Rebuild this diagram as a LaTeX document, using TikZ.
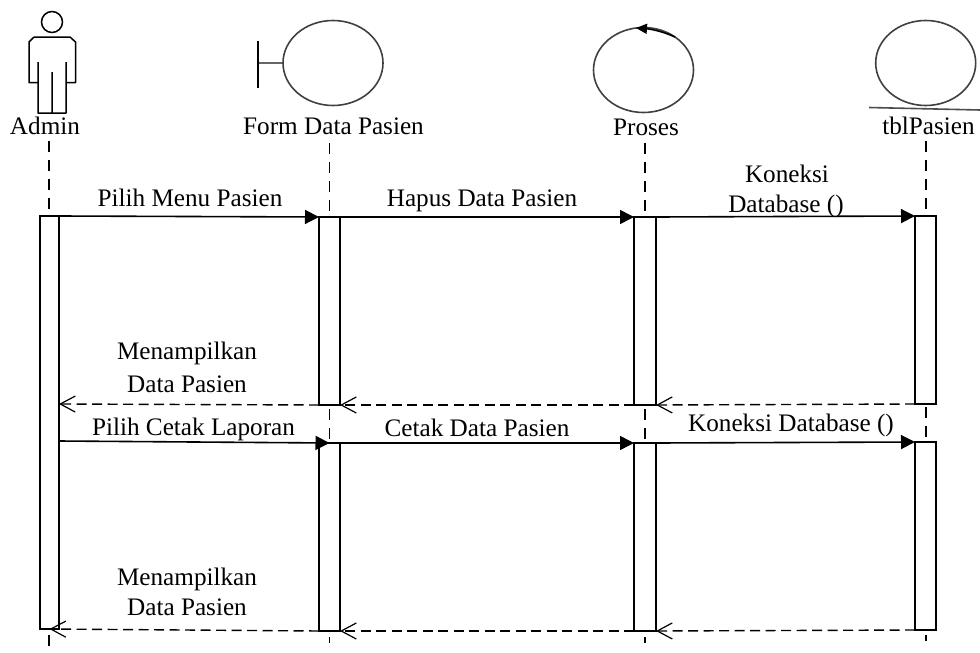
\documentclass[tikz,border=0pt]{standalone}
\usepackage{fontspec}
\setmainfont{Liberation Serif}
\usetikzlibrary{arrows.meta,shapes.geometric}
\tikzset{
  every node/.style={font=\fontsize{25.2}{28}\selectfont,text=black},
  lbl/.style={inner sep=0pt,anchor=base},
  act/.style={draw=black,line width=1.4pt,fill=white,inner sep=0pt,outer sep=0pt,anchor=north west,minimum width=#1},
  life/.style={draw=black,line width=1.4pt,dash pattern=on 11pt off 8pt},
  callarrow/.style={draw=black,line width=1.6pt,-{Triangle[length=14pt,width=14pt]}},
  retarrow/.style={draw=black,line width=1.4pt,dash pattern=on 10pt off 5.5pt,-{Straight Barb[length=15pt,width=16pt,line width=1.2pt]}},
  icon/.style={draw=black,line width=1.5pt},
  ball/.style={ellipse,draw=black!75,line width=1.6pt,inner sep=0pt,minimum width=100pt,minimum height=85pt,fill=white},
}
\begin{document}
\begin{tikzpicture}[x=1pt,y=-1pt]
\useasboundingbox (0,0) rectangle (980,653);

% lifeline end points
\coordinate (at) at (49,141);
\coordinate (ab) at (49,653);
\coordinate (ft) at (329.5,143);
\coordinate (fb) at (329.5,643);
\coordinate (pt) at (645,143);
\coordinate (pb) at (645,643);
\coordinate (tt) at (926,141);
\coordinate (tb) at (926,641);

\draw[life] (at) -- (ab);
\draw[life] (ft) -- (fb);
\draw[life] (pt) -- (pb);
\draw[life] (tt) -- (tb);

% activation boxes
\node[act=19pt,minimum height=413pt] (aA) at (40,216) {};
\node[act=21pt,minimum height=188pt] (fA) at (319,217) {};
\node[act=21pt,minimum height=188pt] (fB) at (319,443) {};
\node[act=22pt,minimum height=188pt] (pA) at (634,217) {};
\node[act=22pt,minimum height=188pt] (pB) at (634,443) {};
\node[act=21pt,minimum height=188pt] (tA) at (915,216) {};
\node[act=21pt,minimum height=188pt] (tB) at (915,442) {};

% actor
\node[circle,draw=black,line width=1.5pt,minimum size=21pt,inner sep=0pt] (head) at (52,22) {};
\draw[icon,line join=round] (34,37) -- (70,37) -- (75.5,42) -- (75.5,82.5) -- (66,82.5)
   (66,62) -- (66,113) -- (38,113) -- (38,62)
   (38,82.5) -- (29,82.5) -- (29,42) -- (34,37)
   (52,72) -- (52,113);

% boundary
\node[ball] (form) at (333,63) {};
\coordinate (fbar) at (258,63);
\draw[draw=black!60,line width=2.2pt] (fbar) -- (form.west);
\draw[draw=black,line width=1.3pt] (258,41) -- (258,88);

% control
\node[ball] (proses) at (643.5,70) {};
\coordinate (cs) at (675,37);
\coordinate (ce) at (636,28);
\draw[draw=black,line width=1.6pt,-{Triangle[length=11pt,width=10pt]}] (cs) .. controls (662,31) and (650,29) .. (ce);

% entity
\node[ball] (tbl) at (925.7,63) {};
\coordinate (el) at (869,107.5);
\coordinate (er) at (980,110);
\draw[draw=black!70,line width=1.6pt] (el) -- (er);

% head labels
\node[lbl] (lA) at (45,134) {Admin};
\node[lbl] (lF) at (333.5,134) {Form Data Pasien};
\node[lbl] (lP) at (646,135) {Proses};
\node[lbl] (lT) at (928.5,134.5) {tblPasien};

% calls
\draw[callarrow] (aA.north east) -- (fA.north west);
\draw[callarrow] (fA.north east) -- (pA.north west);
\draw[callarrow] (pA.north east) -- (tA.north west);
\draw[callarrow] (aA.east |- 0,441) -- (fB.north);
\draw[callarrow] (fB.north east) -- (pB.north west);
\draw[callarrow] (pB.north east) -- (tB.north west);

% returns
\draw[retarrow] (tA.south west) -- (pA.south east);
\draw[retarrow] (pA.south west) -- (fA.south east);
\draw[retarrow] (fA.south west) -- (aA.east |- 0,404);
\draw[retarrow] (tB.south west) -- (pB.south east);
\draw[retarrow] (pB.south west) -- (fB.south east);
\draw[retarrow] (fB.south west) -- (aA.south);

% message labels
\node[lbl] (m1) at (190,206) {Pilih Menu Pasien};
\node[lbl] (m2) at (482,206) {Hapus Data Pasien};
\node[lbl] (m3a) at (787,182) {Koneksi};
\node[lbl] (m3b) at (786,212) {Database ()};
\node[lbl] (m4a) at (187,359) {Menampilkan};
\node[lbl] (m4b) at (187,392) {Data Pasien};
\node[lbl] (m5) at (193.5,435) {Pilih Cetak Laporan};
\node[lbl] (m6) at (477,436) {Cetak Data Pasien};
\node[lbl] (m7) at (791,431) {Koneksi Database ()};
\node[lbl] (m8a) at (187,585) {Menampilkan};
\node[lbl] (m8b) at (187,615) {Data Pasien};
\end{tikzpicture}
\end{document}
